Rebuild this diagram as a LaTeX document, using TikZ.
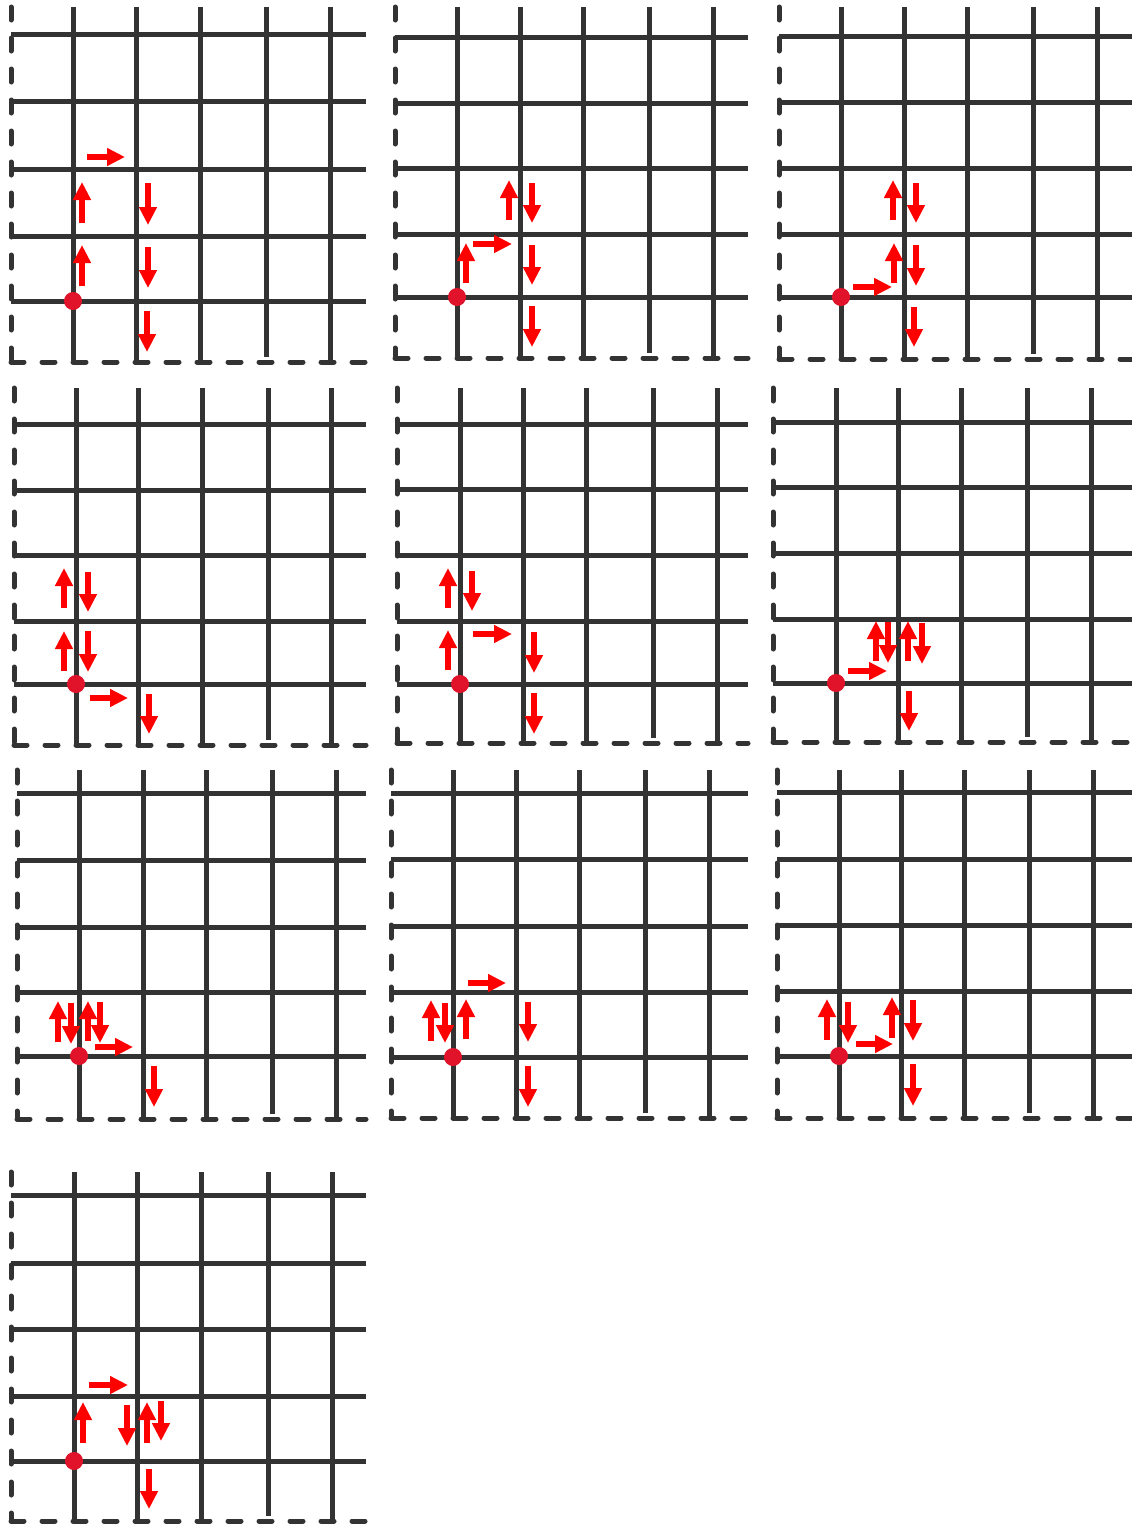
\documentclass[tikz,border=0pt]{standalone}
\usetikzlibrary{arrows.meta}
\definecolor{gridgray}{HTML}{333333}
\definecolor{arrred}{HTML}{FF0000}
\definecolor{dotred}{HTML}{E0132A}
\tikzset{
  gridline/.style={line width=5pt, draw=gridgray},
  borderline/.style={gridline, line cap=round, dash pattern=on 13pt off 18pt},
  redarrow/.style={draw=arrred, line width=6pt, -{Triangle[length=18pt,width=17pt]}},
  reddot/.style={circle, fill=dotred, inner sep=0pt, minimum size=18pt}
}
% #1 left, #2 top, #3 bottom, #4 right, #5 verticals, #6 horizontals
\newcommand{\gridpanel}[6]{%
  \foreach \v [count=\i] in {#5} {
    \pgfmathsetmacro\bb{#3-(\i==4)*5}
    \draw[gridline] (\v,#2) -- (\v,\bb);
  }
  \foreach \h in {#6} {
    \draw[gridline] (#1,\h) -- (#4,\h);
  }
  \draw[borderline] (#1,#2) -- (#1,#3);
  \draw[borderline] (#1,#3) -- (#4,#3);
}
\newcommand{\redarr}[4]{\draw[redarrow] (#1,#2) -- (#3,#4);}
\begin{document}
\begin{tikzpicture}[x=1pt,y=-1pt]
\useasboundingbox (0,0) rectangle (1132,1524);
\fill[white] (0,0) rectangle (1132,1524);

% Panel 1
\gridpanel{11}{7}{362}{366}{73,136,200,266,330}{34,101,169,236,301}
\node[reddot] (d1) at (73,301) {};
\redarr{82}{286}{82}{245}
\redarr{82}{223}{82}{182}
\redarr{87}{157}{125}{157}
\redarr{148}{183}{148}{225}
\redarr{148}{247}{148}{288}
\redarr{147}{311}{147}{352}

% Panel 2
\gridpanel{395}{7}{358}{748}{457,520,583,649,713}{37,103,168,234,297}
\node[reddot] (d2) at (457,297) {};
\redarr{466}{283}{466}{243}
\redarr{473}{244}{512}{244}
\redarr{509}{220}{509}{180}
\redarr{532}{183}{532}{223}
\redarr{532}{245}{532}{285}
\redarr{532}{306}{532}{347}

% Panel 3
\gridpanel{779}{7}{359}{1132}{841,904,967,1033,1097}{36,102,168,234,297}
\node[reddot] (d3) at (841,297) {};
\redarr{853}{287}{892}{287}
\redarr{894}{283}{894}{243}
\redarr{893}{220}{893}{180}
\redarr{916}{183}{916}{223}
\redarr{916}{245}{916}{286}
\redarr{914}{307}{914}{347}

% Panel 4
\gridpanel{14}{388}{745}{366}{76,138,202,268,331}{424,490,555,621,684}
\node[reddot] (d4) at (76,684) {};
\redarr{64}{608}{64}{568}
\redarr{64}{671}{64}{631}
\redarr{88}{572}{88}{612}
\redarr{88}{631}{88}{672}
\redarr{90}{698}{128}{698}
\redarr{149}{694}{149}{734}

% Panel 5
\gridpanel{397}{388}{743}{748}{460,523,586,653,717}{424,489,555,621,684}
\node[reddot] (d5) at (460,684) {};
\redarr{448}{608}{448}{568}
\redarr{448}{670}{448}{630}
\redarr{472}{571}{472}{611}
\redarr{473}{634}{512}{634}
\redarr{534}{632}{534}{673}
\redarr{534}{693}{534}{734}

% Panel 6
\gridpanel{773}{388}{742}{1132}{836,898,961,1027,1091}{422,487,553,619,683}
\node[reddot] (d6) at (836,683) {};
\redarr{848}{671}{887}{671}
\redarr{876}{661}{876}{621}
\redarr{888}{622}{888}{663}
\redarr{908}{661}{908}{621}
\redarr{922}{623}{922}{664}
\redarr{909}{691}{909}{731}

% Panel 7
\gridpanel{17}{770}{1119}{366}{79,143,206,272,336}{793,860,927,992,1056}
\node[reddot] (d7) at (79,1056) {};
\redarr{58}{1042}{58}{1001}
\redarr{71}{1003}{71}{1044}
\redarr{88}{1041}{88}{1001}
\redarr{100}{1002}{100}{1043}
\redarr{95}{1047}{133}{1047}
\redarr{154}{1066}{154}{1107}

% Panel 8
\gridpanel{391}{770}{1118}{748}{453,516,579,645,709}{793,859,926,992,1057}
\node[reddot] (d8) at (453,1057) {};
\redarr{431}{1041}{431}{1000}
\redarr{445}{1003}{445}{1043}
\redarr{466}{1039}{466}{999}
\redarr{468}{983}{506}{983}
\redarr{528}{1002}{528}{1042}
\redarr{528}{1066}{528}{1107}

% Panel 9
\gridpanel{777}{770}{1118}{1132}{839,901,964,1029,1093}{792,859,925,991,1056}
\node[reddot] (d9) at (839,1056) {};
\redarr{827}{1040}{827}{999}
\redarr{848}{1002}{848}{1043}
\redarr{856}{1044}{893}{1044}
\redarr{892}{1038}{892}{997}
\redarr{913}{1000}{913}{1041}
\redarr{913}{1064}{913}{1106}

% Panel 10
\gridpanel{11}{1172}{1521}{366}{74,137,201,268,332}{1195,1263,1329,1396,1461}
\node[reddot] (d10) at (74,1461) {};
\redarr{83}{1443}{83}{1402}
\redarr{89}{1385}{128}{1385}
\redarr{127}{1405}{127}{1446}
\redarr{147}{1443}{147}{1402}
\redarr{161}{1401}{161}{1441}
\redarr{149}{1469}{149}{1509}
\end{tikzpicture}
\end{document}
